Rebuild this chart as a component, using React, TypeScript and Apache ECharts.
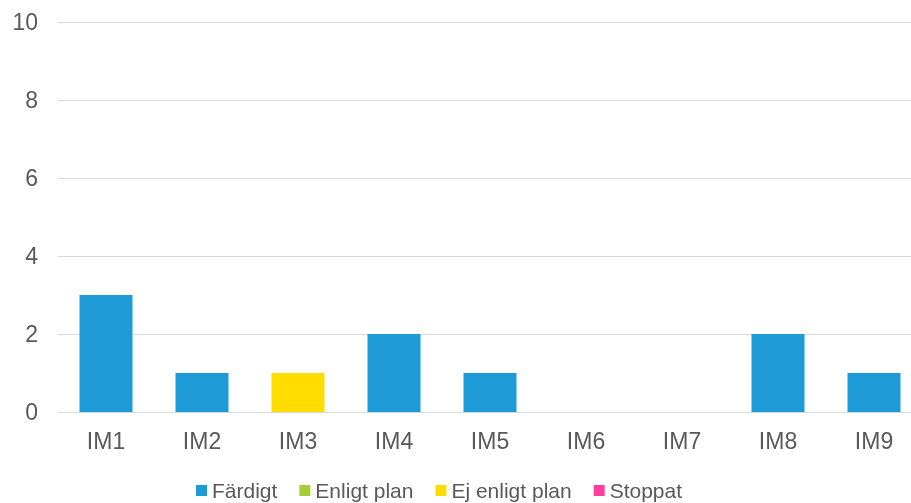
import React, { useEffect, useRef } from "react";
import * as echarts from "echarts";

const categories = ["IM1", "IM2", "IM3", "IM4", "IM5", "IM6", "IM7", "IM8", "IM9"];
const fardigt = [3, 1, 0, 2, 1, 0, 0, 2, 1];
const enligtPlan = [0, 0, 0, 0, 0, 0, 0, 0, 0];
const ejEnligtPlan = [0, 0, 1, 0, 0, 0, 0, 0, 0];
const stoppat = [0, 0, 0, 0, 0, 0, 0, 0, 0];

const seriesDefs = [
  { name: "Färdigt", data: fardigt, color: "#1E9BD7" },
  { name: "Enligt plan", data: enligtPlan, color: "#A6CE39" },
  { name: "Ej enligt plan", data: ejEnligtPlan, color: "#FFDD00" },
  { name: "Stoppat", data: stoppat, color: "#FF3F9F" },
];

export default function App() {
  const ref = useRef<HTMLDivElement>(null);
  useEffect(() => {
    if (!ref.current) return;
    const chart = echarts.init(ref.current, undefined, { renderer: "svg" });
    const font = "'Liberation Sans', Arial, sans-serif";
    chart.setOption({
      animation: false,
      textStyle: { fontFamily: font },
      grid: { left: 58, top: 22, bottom: 91, width: 864, containLabel: false },
      legend: {
        bottom: 2,
        left: 196,
        padding: 0,
        itemWidth: 11,
        itemHeight: 11,
        itemGap: 22,
        icon: "rect",
        textStyle: { color: "#595959", fontSize: 21, fontFamily: font },
        data: seriesDefs.map((s) => s.name),
      },
      xAxis: {
        type: "category",
        data: categories,
        axisLine: { lineStyle: { color: "#D9D9D9", width: 1 } },
        axisTick: { show: false },
        axisLabel: { color: "#595959", fontSize: 23, margin: 17, fontFamily: font },
      },
      yAxis: {
        type: "value",
        min: 0,
        max: 10,
        interval: 2,
        axisLine: { show: false },
        axisTick: { show: false },
        splitLine: { lineStyle: { color: "#D9D9D9", width: 1 } },
        axisLabel: { color: "#595959", fontSize: 23, margin: 20, fontFamily: font },
      },
      series: seriesDefs.map((s) => ({
        name: s.name,
        type: "bar",
        stack: "total",
        data: s.data,
        barWidth: 53,
        itemStyle: { color: s.color },
      })),
    });
    return () => chart.dispose();
  }, []);
  return (
    <div style={{ position: "fixed", top: 0, left: 0, width: 911, height: 503, overflow: "hidden" }}>
      <div ref={ref} style={{ width: 940, height: 503 }} />
    </div>
  );
}
